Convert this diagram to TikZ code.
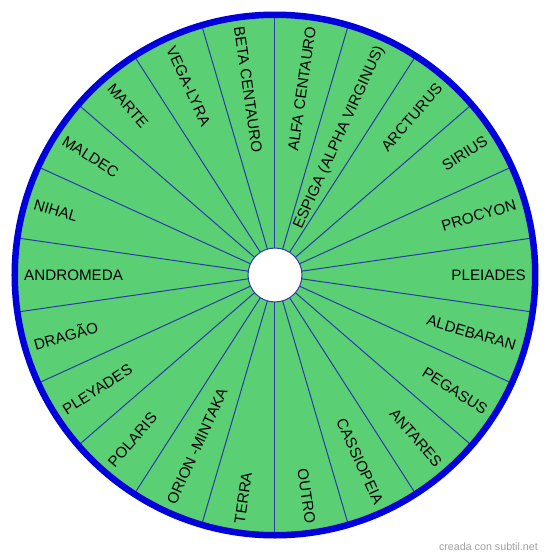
\documentclass[tikz,border=0pt]{standalone}
\usepackage{fontspec}
\setmainfont{Liberation Sans}
\definecolor{wheelgreen}{RGB}{90,207,115}
\definecolor{ringblue}{RGB}{0,0,220}
\definecolor{spokeblue}{RGB}{40,60,170}
\definecolor{markgray}{RGB}{160,160,160}
\begin{document}
\begin{tikzpicture}[x=1pt,y=1pt,
  spoke/.style={draw=spokeblue, line width=1pt},
  lab/.style={inner sep=0pt, font=\fontsize{15.2}{18}\selectfont, text height=10.9pt, text depth=0pt},
]
\useasboundingbox (-275,-283) rectangle (275,275);
\fill[wheelgreen] (0,0) circle (261);
\foreach \k in {0,...,21} \draw[spoke] ({90-\k*360/22}:27) -- ({90-\k*360/22}:259);
\node[circle, fill=white, draw=spokeblue, line width=1pt, minimum size=54pt, inner sep=0pt] (hub) at (0,0) {};
\node[circle, draw=ringblue, line width=6.5pt, minimum size=520.5pt, inner sep=0pt] (rim) at (0,0) {};
\foreach \t [count=\i from 0] in {{ALFA CENTAURO},{ESPIGA (ALPHA VIRGINUS)},{ARCTURUS},{SIRIUS},{PROCYON},{PLEIADES},{ALDEBARAN},{PEGASUS},{ANTARES},{CASSIOPEIA},{OUTRO},{TERRA},{ORION -MINTAKA},{POLARIS},{PLEYADES},{DRAGÃO},{ANDROMEDA},{NIHAL},{MALDEC},{MARTE},{VEGA-LYRA},{BETA CENTAURO}} {
  \pgfmathsetmacro\m{90-(\i+0.5)*360/22}
  \ifnum\i<11
    \node[lab, rotate=\m, anchor=east] (l\i) at (\m:251) {\t};
  \else
    \node[lab, rotate=\m+180, anchor=west] (l\i) at (\m:251) {\t};
  \fi
}
\node[anchor=east, text=markgray, font=\fontsize{10.7}{12}\selectfont, inner sep=0pt] (credit) at (263,-272) {creada con subtil.net};
\end{tikzpicture}
\end{document}
